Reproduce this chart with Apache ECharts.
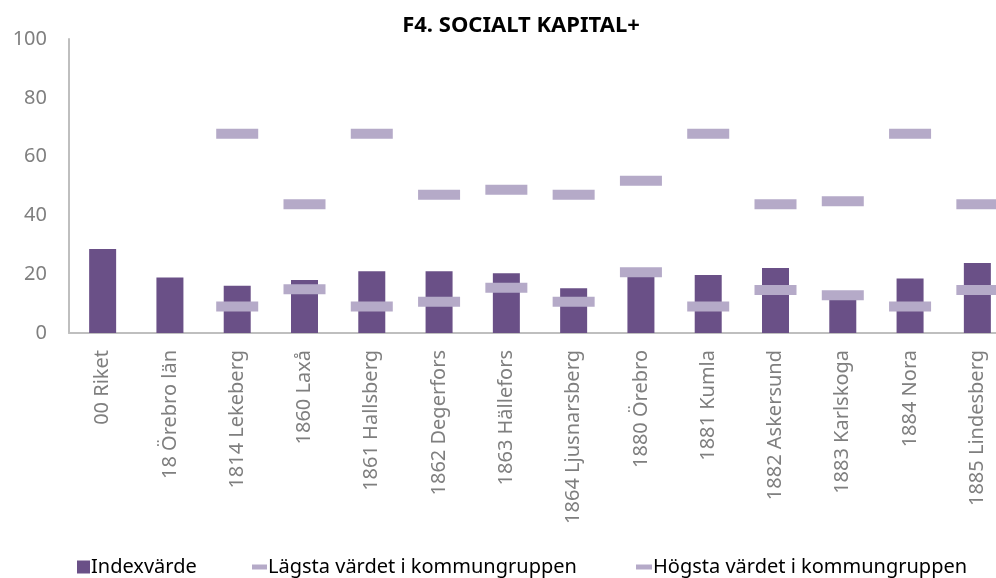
<!DOCTYPE html>
<html>
<head>
<meta charset="utf-8">
<script src="https://cdn.jsdelivr.net/npm/echarts@6/dist/echarts.min.js"></script>
<style>
  html, body { margin: 0; padding: 0; background: #fff; }
  #chart { width: 996px; height: 578px; }
</style>
</head>
<body>
<div id="chart"></div>
<script>
// kategorier och värden
const categories = ['00 Riket', '18 Örebro län', '1814 Lekeberg', '1860 Laxå', '1861 Hallsberg',
  '1862 Degerfors', '1863 Hällefors', '1864 Ljusnarsberg', '1880 Örebro', '1881 Kumla',
  '1882 Askersund', '1883 Karlskoga', '1884 Nora', '1885 Lindesberg']
const indexValues = [28.6, 18.9, 16.1, 18.0, 21.0, 21.0, 20.3, 15.2, 20.5, 19.7, 22.1, 12.3, 18.5, 23.8]
const lowValues = [null, null, 9.0, 14.9, 9.0, 10.6, 15.4, 10.6, 20.7, 9.0, 14.6, 12.8, 9.0, 14.6]
const highValues = [null, null, 67.8, 43.8, 67.8, 47.0, 48.7, 47.0, 51.8, 67.8, 43.8, 44.8, 67.8, 43.8]
const yTicks = [0, 20, 40, 60, 80, 100]

const barColor = '#6a5087'
const markColor = '#b5aac8'
const font = 'Noto Sans'

const chart = echarts.init(document.getElementById('chart'))

const legendText = { fontFamily: font, fontSize: 20, color: '#000', padding: [0, 0, 0, -4] }

const option = {
  animation: false,
  backgroundColor: '#fff',
  textStyle: { fontFamily: font },
  title: {
    text: 'F4. SOCIALT KAPITAL+',
    left: 516,
    top: 10,
    textAlign: 'center',
    textStyle: { fontFamily: font, fontWeight: 'bold', fontSize: 22, color: '#000' }
  },
  legend: [
    {
      data: [{ name: 'Indexvärde', icon: 'rect' }],
      left: 72, top: 552, itemWidth: 13, itemHeight: 13,
      textStyle: legendText
    },
    {
      data: [{ name: 'Lägsta värdet i kommungruppen', icon: 'rect' }],
      left: 247, top: 552, itemWidth: 15, itemHeight: 5,
      textStyle: legendText
    },
    {
      data: [{ name: 'Högsta värdet i kommungruppen', icon: 'rect' }],
      left: 631, top: 552, itemWidth: 16, itemHeight: 5,
      textStyle: legendText
    }
  ],
  // diagrammet är avskuret till höger, så rutnätet går utanför kanten
  grid: { left: 69, width: 942, top: 39, height: 294, containLabel: false, outerBoundsMode: 'none' },
  xAxis: {
    type: 'category',
    data: categories,
    axisLine: { lineStyle: { color: '#bfbfbf', width: 2 } },
    axisTick: { show: false },
    axisLabel: { rotate: 90, interval: 0, margin: 17, fontSize: 20, color: '#7f7f7f', fontFamily: font }
  },
  yAxis: {
    type: 'value',
    min: yTicks[0],
    max: yTicks[yTicks.length - 1],
    interval: yTicks[1] - yTicks[0],
    axisLine: { show: true, lineStyle: { color: '#bfbfbf', width: 2 } },
    axisTick: { show: false },
    splitLine: { show: false },
    axisLabel: { margin: 22, fontSize: 20, color: '#7f7f7f', fontFamily: font }
  },
  series: [
    {
      name: 'Indexvärde',
      type: 'bar',
      data: indexValues,
      barWidth: 27,
      itemStyle: { color: barColor },
      z: 2
    },
    {
      name: 'Lägsta värdet i kommungruppen',
      type: 'scatter',
      data: lowValues,
      symbol: 'rect',
      symbolSize: [42, 10],
      itemStyle: { color: markColor, opacity: 1 },
      z: 3
    },
    {
      name: 'Högsta värdet i kommungruppen',
      type: 'scatter',
      data: highValues,
      symbol: 'rect',
      symbolSize: [42, 10],
      itemStyle: { color: markColor, opacity: 1 },
      z: 3
    }
  ]
}

chart.setOption(option)
</script>
</body>
</html>
